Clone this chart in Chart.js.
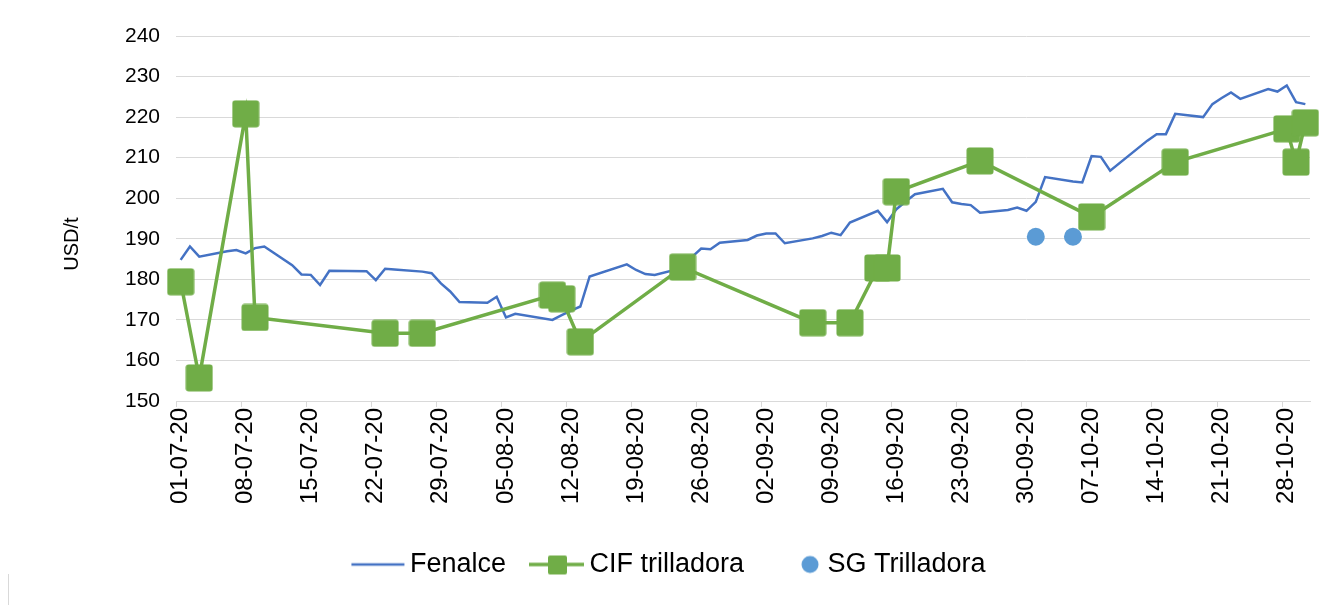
<!DOCTYPE html>
<html>
<head>
<meta charset="utf-8">
<script src="https://cdn.jsdelivr.net/npm/chart.js@4/dist/chart.umd.min.js"></script>
<style>
  html, body { margin: 0; padding: 0; background: #fff; }
  #wrap { position: relative; width: 1338px; height: 605px; }
  #frame { position: absolute; left: 8px; top: 574px; bottom: 0; border-left: 1px solid #d9d9d9; }
</style>
</head>
<body>
<div id="wrap">
  <canvas id="myChart" width="1338" height="605"></canvas>
  <div id="frame"></div>
</div>
<script>
const TICK_LABELS = [
  '01-07-20', '08-07-20', '15-07-20', '22-07-20', '29-07-20', '05-08-20',
  '12-08-20', '19-08-20', '26-08-20', '02-09-20', '09-09-20', '16-09-20',
  '23-09-20', '30-09-20', '07-10-20', '14-10-20', '21-10-20', '28-10-20',
]

const FENALCE_DATES = [
  '01-07', '02-07', '03-07', '06-07', '07-07', '08-07', '09-07', '10-07', '13-07', '14-07', '15-07',
  '16-07', '17-07', '21-07', '22-07', '23-07', '24-07', '27-07', '28-07', '29-07', '30-07', '31-07',
  '03-08', '04-08', '05-08', '06-08', '10-08', '11-08', '12-08', '13-08', '14-08', '18-08', '19-08',
  '20-08', '21-08', '24-08', '25-08', '26-08', '27-08', '28-08', '31-08',
  '01-09', '02-09', '03-09', '04-09', '07-09', '08-09', '09-09', '10-09', '11-09', '14-09', '15-09',
  '16-09', '17-09', '18-09', '21-09', '22-09', '23-09', '24-09', '25-09', '28-09', '29-09', '30-09',
  '01-10', '02-10', '05-10', '06-10', '07-10', '08-10', '09-10', '13-10', '14-10', '15-10', '16-10',
  '19-10', '20-10', '21-10', '22-10', '23-10', '26-10', '27-10', '28-10', '29-10', '30-10',
]
const FENALCE_VALUES = [
  184.8, 188.1, 185.6, 186.9, 187.2, 186.4, 187.7, 188.1, 183.5, 181.2, 181.1,
  178.6, 182.1, 182.0, 179.8, 182.6, 182.4, 181.9, 181.5, 179.0, 177.0, 174.4,
  174.2, 175.7, 170.6, 171.5, 170.0, 171.2, 172.3, 173.3, 180.7, 183.7, 182.3,
  181.3, 181.1, 182.8, 185.5, 187.6, 187.4, 189.0, 189.7,
  190.8, 191.3, 191.3, 188.9, 190.1, 190.7, 191.5, 190.9, 194.0, 196.9, 194.1,
  197.3, 199.2, 201.0, 202.3, 199.0, 198.6, 198.3, 196.4, 197.1, 197.7, 196.9,
  199.1, 205.2, 204.1, 203.9, 210.4, 210.2, 206.8, 214.2, 215.8, 215.8, 220.8,
  220.0, 223.2, 224.7, 226.1, 224.5, 226.9, 226.3, 227.8, 223.7, 223.2,
]

const CIF_DATES = [
  '01-07', '03-07', '08-07', '09-07', '23-07', '27-07', '10-08', '11-08', '13-08', '24-08', '07-09',
  '11-09', '14-09', '15-09', '16-09', '25-09', '07-10', '16-10', '28-10', '29-10', '30-10',
]
const CIF_VALUES = [
  179.4, 155.7, 220.8, 170.6, 166.7, 166.7, 176.1, 175.2, 164.6, 183.0, 169.3,
  169.3, 182.8, 182.8, 201.6, 209.2, 195.4, 208.9, 217.1, 208.9, 218.6,
]

const SG_DATES = ['01-10', '05-10']
const SG_VALUES = [190.5, 190.5]

const BLUE = '#4472c4'
const GREEN = '#70ad47'
const LIGHT_BLUE = '#5b9bd5'
const FONT = 'Arial, "Liberation Sans", sans-serif'

// days counted from 1 July 2020
const dayIndex = (s) => {
  const [d, m] = s.split('-').map(Number)
  return (Date.UTC(2020, m - 1, d) - Date.UTC(2020, 6, 1)) / 864e5
}
const toPoints = (dates, values) => dates.map((d, i) => ({ x: dayIndex(d), y: values[i] }))

function makeCanvas(w, h, draw) {
  const c = document.createElement('canvas')
  c.width = w
  c.height = h
  draw(c.getContext('2d'))
  return c
}

function roundRect(ctx, x, y, w, h, r) {
  ctx.beginPath()
  ctx.moveTo(x + r, y)
  ctx.arcTo(x + w, y, x + w, y + h, r)
  ctx.arcTo(x + w, y + h, x, y + h, r)
  ctx.arcTo(x, y + h, x, y, r)
  ctx.arcTo(x, y, x + w, y, r)
  ctx.closePath()
}

const squareMarker = makeCanvas(28, 28, ctx => {
  ctx.fillStyle = GREEN
  roundRect(ctx, 0.5, 0.5, 27, 27, 3)
  ctx.fill()
})

// legend samples; the label text starts at x = 113 inside these canvases
const LW = 140, LH = 30
const legendFenalce = makeCanvas(LW, LH, ctx => {
  ctx.strokeStyle = BLUE
  ctx.lineWidth = 2.5
  ctx.beginPath(); ctx.moveTo(55, 15); ctx.lineTo(108, 15); ctx.stroke()
})
const legendCif = makeCanvas(LW, LH, ctx => {
  ctx.strokeStyle = GREEN
  ctx.lineWidth = 3.5
  ctx.beginPath(); ctx.moveTo(53, 15); ctx.lineTo(108, 15); ctx.stroke()
  ctx.fillStyle = GREEN
  roundRect(ctx, 72, 6, 19, 19, 2)
  ctx.fill()
})
const legendSg = makeCanvas(LW, LH, ctx => {
  ctx.fillStyle = LIGHT_BLUE
  ctx.beginPath(); ctx.arc(96, 15, 8.5, 0, Math.PI * 2); ctx.fill()
})

const yTitle = {
  id: 'yTitle',
  afterDraw(chart) {
    const ctx = chart.ctx
    ctx.save()
    ctx.translate(72, 244)
    ctx.rotate(-Math.PI / 2)
    ctx.font = `20px ${FONT}`
    ctx.fillStyle = '#000'
    ctx.textAlign = 'center'
    ctx.textBaseline = 'middle'
    ctx.fillText('USD/t', 0, 0)
    ctx.restore()
  },
}

Chart.defaults.font.family = FONT
Chart.defaults.color = '#000'

const config = {
  type: 'line',
  data: {
    datasets: [
      {
        label: 'Fenalce',
        data: toPoints(FENALCE_DATES, FENALCE_VALUES),
        borderColor: BLUE,
        borderWidth: 2.5,
        pointRadius: 0,
        tension: 0,
        order: 2,
      },
      {
        label: 'CIF trilladora',
        data: toPoints(CIF_DATES, CIF_VALUES),
        borderColor: GREEN,
        backgroundColor: GREEN,
        borderWidth: 3.5,
        pointStyle: squareMarker,
        pointRadius: 14,
        tension: 0,
        clip: false,
        order: 1,
      },
      {
        label: 'SG Trilladora',
        data: toPoints(SG_DATES, SG_VALUES),
        showLine: false,
        pointStyle: 'circle',
        pointRadius: 9,
        pointBorderWidth: 0,
        backgroundColor: LIGHT_BLUE,
        borderColor: LIGHT_BLUE,
        clip: false,
        order: 0,
      },
    ],
  },
  options: {
    responsive: false,
    animation: false,
    devicePixelRatio: 1,
    layout: { padding: { left: 12, right: 28, top: 36, bottom: 17 } },
    plugins: {
      tooltip: { enabled: false },
      legend: {
        position: 'bottom',
        labels: {
          usePointStyle: true,
          pointStyleWidth: 60,
          padding: 10,
          color: '#000',
          font: { size: 27 },
          generateLabels: () => [
            { text: 'Fenalce', pointStyle: legendFenalce, datasetIndex: 0 },
            { text: 'CIF trilladora', pointStyle: legendCif, datasetIndex: 1 },
            { text: 'SG Trilladora', pointStyle: legendSg, datasetIndex: 2 },
          ].map(item => ({ ...item, fontColor: '#000', lineWidth: 0, hidden: false })),
        },
      },
    },
    scales: {
      x: {
        type: 'linear',
        min: -0.5,
        max: 121.5,
        afterBuildTicks: (scale) => {
          scale.ticks = TICK_LABELS.map(l => ({ value: dayIndex(l) - 0.5 }))
        },
        afterFit: (scale) => { scale.height = 140 },
        ticks: {
          autoSkip: false,
          minRotation: 90,
          maxRotation: 90,
          labelOffset: 4.6,
          padding: 1,
          font: { size: 24 },
          callback: (v, i) => TICK_LABELS[i],
        },
        grid: { drawOnChartArea: false, drawTicks: true, tickLength: 6, color: '#d9d9d9' },
        border: { display: true, color: '#d9d9d9', width: 1 },
      },
      y: {
        min: 150,
        max: 240,
        afterFit: (scale) => { scale.width = 164 },
        ticks: { stepSize: 10, padding: 16, font: { size: 21 } },
        grid: { color: '#d9d9d9', drawTicks: false },
        border: { display: false },
      },
    },
  },
  plugins: [yTitle],
}

const myChart = new Chart(document.getElementById('myChart'), config)
</script>
</body>
</html>
